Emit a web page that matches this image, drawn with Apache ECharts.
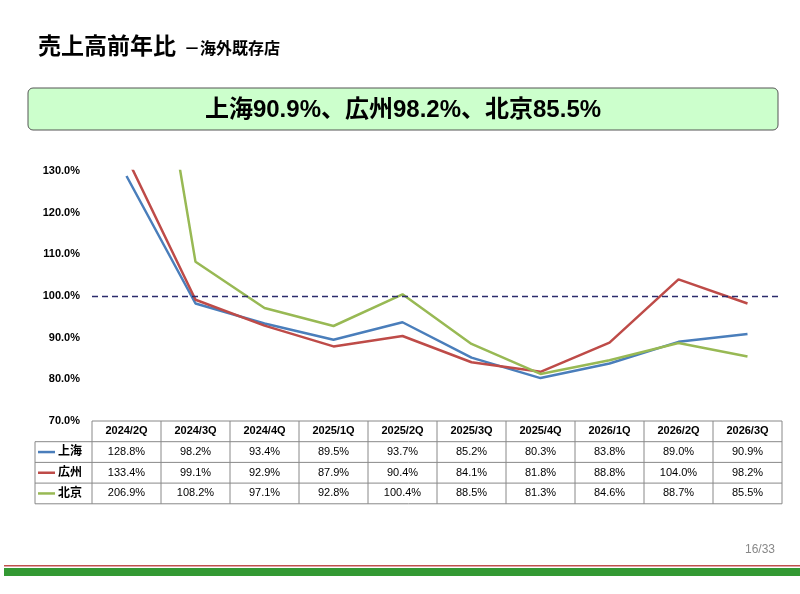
<!DOCTYPE html><html><head><meta charset="utf-8"><script src="https://cdn.jsdelivr.net/npm/echarts@6/dist/echarts.min.js"></script></head><body style="margin:0"><div id="c" style="width:800px;height:594px"></div><script>
const categories=['2024/2Q','2024/3Q','2024/4Q','2025/1Q','2025/2Q','2025/3Q','2025/4Q','2026/1Q','2026/2Q','2026/3Q'];
const shanghai=[128.8,98.2,93.4,89.5,93.7,85.2,80.3,83.8,89.0,90.9];
const guangzhou=[133.4,99.1,92.9,87.9,90.4,84.1,81.8,88.8,104.0,98.2];
const beijing=[206.9,108.2,97.1,92.8,100.4,88.5,81.3,84.6,88.7,85.5];
const names=['上海','広州','北京'];
const colors=['#4a7ebb','#be4b48','#98b954'];
const yTicks=[70,80,90,100,110,120,130];
(function(){
const F='"Liberation Sans","Noto Sans CJK JP",sans-serif';
const chart=echarts.init(document.getElementById('c'));
const series=[shanghai,guangzhou,beijing].map((d,i)=>({type:'line',name:names[i],data:d,symbol:'none',lineStyle:{color:colors[i],width:2.5},clip:true,z:3}));
series[0].markLine={silent:true,symbol:'none',label:{show:false},lineStyle:{color:'#2b2b6b',type:[6,4],width:1.3},data:[{yAxis:100}]};
chart.setOption({animation:false,
grid:{left:92,right:18,top:171,bottom:173},
xAxis:{type:'category',data:categories,axisLine:{show:false},axisTick:{show:false},axisLabel:{show:false}},
yAxis:{type:'value',min:yTicks[0],max:yTicks[yTicks.length-1],interval:10,splitLine:{show:false},axisLine:{show:false},axisTick:{show:false},
axisLabel:{formatter:v=>v.toFixed(1)+'%',fontFamily:F,fontWeight:'bold',fontSize:11,color:'#000',margin:12}},
series});
const g=[];
const T=(x,y,t,o)=>g.push(Object.assign({type:'text',x,y,style:Object.assign({text:t,fontFamily:F,fill:'#000',align:'center',verticalAlign:'middle'},o||{})}));
T(38,48,'売上高前年比',{fontSize:23,fontWeight:'bold',align:'left'});
T(184,50,'－海外既存店',{fontSize:16,fontWeight:'bold',align:'left'});
g.push({type:'rect',shape:{x:28,y:88,width:750,height:42,r:5},style:{fill:'#ccffcc',stroke:'#555',lineWidth:1}});
T(403,110,names[0]+shanghai[9].toFixed(1)+'%、'+names[1]+guangzhou[9].toFixed(1)+'%、'+names[2]+beijing[9].toFixed(1)+'%',{fontSize:24,fontWeight:'bold'});
const x0=chart.convertToPixel({xAxisIndex:0},0),x1=chart.convertToPixel({xAxisIndex:0},1),w=x1-x0;
const L=x0-w/2,R=L+w*categories.length,tp=chart.convertToPixel({yAxisIndex:0},70),rh=20.7;
const ln=(a,b,c,d)=>g.push({type:'line',shape:{x1:a,y1:b,x2:c,y2:d},style:{stroke:'#888',lineWidth:1}});
for(let r=0;r<=4;r++)ln(r===0?L:35,tp+r*rh,R,tp+r*rh);
ln(35,tp+rh,35,tp+4*rh);
for(let i=0;i<=categories.length;i++)ln(L+i*w,tp,L+i*w,tp+4*rh);
categories.forEach((c,i)=>T(x0+i*w,tp+rh/2,c,{fontSize:11,fontWeight:'bold'}));
[shanghai,guangzhou,beijing].forEach((d,r)=>{const y=tp+(r+1.5)*rh;
g.push({type:'line',shape:{x1:38,y1:y,x2:55,y2:y},style:{stroke:colors[r],lineWidth:2.5}});
T(58,y,names[r],{fontSize:12,fontWeight:'bold',align:'left'});
d.forEach((v,i)=>T(x0+i*w,y,v.toFixed(1)+'%',{fontSize:11}));});
T(775,550,'16/33',{fontSize:12,fill:'#888',align:'right'});
g.push({type:'rect',shape:{x:4,y:565,width:796,height:1.5},style:{fill:'#c0504d'}});
g.push({type:'rect',shape:{x:4,y:568,width:796,height:8},style:{fill:'#339933'}});
chart.setOption({graphic:g});
})();
</script></body></html>
